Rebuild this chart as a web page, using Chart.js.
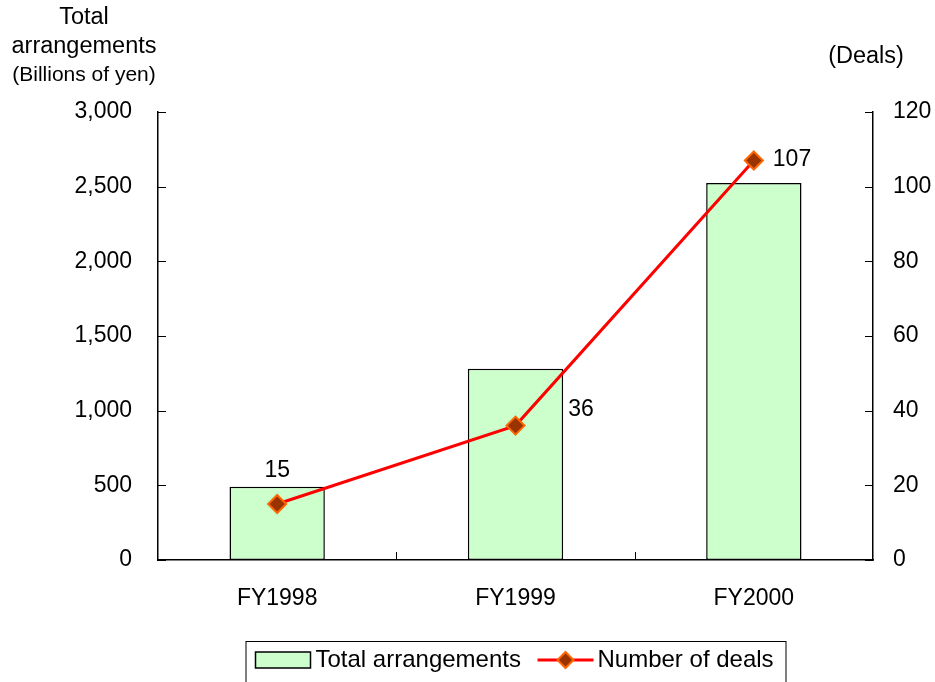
<!DOCTYPE html>
<html>
<head>
<meta charset="utf-8">
<script src="https://cdn.jsdelivr.net/npm/chart.js@4/dist/chart.umd.min.js"></script>
<style>
  html, body { margin: 0; padding: 0; background: #ffffff; }
  #wrap { width: 935px; height: 682px; position: relative; overflow: hidden; }
</style>
</head>
<body>
<div id="wrap"><canvas id="chart" width="935" height="682"></canvas></div>
<script>
// Fiscal years shown on the category axis
const categories = ['FY1998', 'FY1999', 'FY2000'];
// Total arrangements, billions of yen (left axis)
const totalArrangements = [490, 1280, 2525];
// Number of deals (right axis)
const numberOfDeals = [15, 36, 107];
// Tick values for both value axes
const leftTicks = [0, 500, 1000, 1500, 2000, 2500, 3000];
const rightTicks = [0, 20, 40, 60, 80, 100, 120];

const FONT = "'Liberation Sans', Arial, Helvetica, sans-serif";
const TEXT = '#000000';
const BAR_FILL = '#CCFFCC';
const LINE_RED = '#FF0000';
const MARK_FILL = '#993300';
const MARK_EDGE = '#FF6600';

// Short tick marks pointing into the plot area
const innerTicks = {
  id: 'innerTicks',
  afterDraw(chart) {
    const { ctx, chartArea: a, scales } = chart;
    const len = 8;
    ctx.save();
    ctx.strokeStyle = '#000';
    ctx.lineWidth = 1;
    leftTicks.forEach(v => {
      const y = Math.round(scales.y.getPixelForValue(v)) + 0.5;
      ctx.beginPath(); ctx.moveTo(a.left, y); ctx.lineTo(a.left + len, y); ctx.stroke();
    });
    rightTicks.forEach(v => {
      const y = Math.round(scales.y1.getPixelForValue(v)) + 0.5;
      ctx.beginPath(); ctx.moveTo(a.right, y); ctx.lineTo(a.right - len, y); ctx.stroke();
    });
    for (let i = 1; i < categories.length; i++) {
      const x = Math.round((scales.x.getPixelForValue(i - 1) + scales.x.getPixelForValue(i)) / 2) + 0.5;
      ctx.beginPath(); ctx.moveTo(x, a.bottom); ctx.lineTo(x, a.bottom - len); ctx.stroke();
    }
    ctx.restore();
  }
};

// Value labels for the deal counts
const dealLabels = {
  id: 'dealLabels',
  afterDatasetsDraw(chart) {
    const { ctx } = chart;
    const bars = chart.getDatasetMeta(0).data;
    const pts = chart.getDatasetMeta(1).data;
    ctx.save();
    ctx.fillStyle = TEXT;
    ctx.font = '23px ' + FONT;
    ctx.textBaseline = 'middle';
    numberOfDeals.forEach((v, i) => {
      const p = pts[i], b = bars[i];
      if (i === 0) {
        ctx.textAlign = 'center';
        ctx.fillText(String(v), b.x, b.y - 16);
      } else if (i === 1) {
        ctx.textAlign = 'left';
        ctx.fillText(String(v), b.x + b.width / 2 + 5, p.y - 16);
      } else {
        ctx.textAlign = 'left';
        ctx.fillText(String(v), p.x + 19, p.y - 1);
      }
    });
    ctx.restore();
  }
};

// Axis captions above the value axes
const axisCaptions = {
  id: 'axisCaptions',
  afterDraw(chart) {
    const { ctx, chartArea: a } = chart;
    ctx.save();
    ctx.fillStyle = TEXT;
    ctx.textAlign = 'center';
    ctx.textBaseline = 'middle';
    ctx.font = '23.5px ' + FONT;
    ctx.fillText('Total', 84, 18);
    ctx.fillText('arrangements', 84, 47);
    ctx.font = '21px ' + FONT;
    ctx.fillText('(Billions of yen)', 84, 75);
    ctx.font = '23.5px ' + FONT;
    ctx.fillText('(Deals)', a.right - 7, 57);
    ctx.restore();
  }
};

// Boxed legend under the plot
const boxedLegend = {
  id: 'boxedLegend',
  afterDraw(chart) {
    const { ctx, chartArea: a } = chart;
    const cx = (a.left + a.right) / 2;
    const left = cx - 270, top = 641, w = 540, h = 60;
    const cy = top + 19;
    ctx.save();
    ctx.strokeStyle = '#000';
    ctx.lineWidth = 1;
    ctx.strokeRect(left + 0.5, top + 0.5, w, h);
    // bar swatch
    ctx.fillStyle = BAR_FILL;
    ctx.fillRect(left + 10, cy - 8, 55, 16);
    ctx.lineWidth = 1.5;
    ctx.strokeRect(left + 10, cy - 8, 55, 16);
    ctx.fillStyle = TEXT;
    ctx.font = '24px ' + FONT;
    ctx.textAlign = 'left';
    ctx.textBaseline = 'middle';
    ctx.fillText('Total arrangements', left + 70, cy);
    // line swatch with marker
    const lx0 = left + 292, lx1 = left + 348, mx = (lx0 + lx1) / 2;
    ctx.strokeStyle = LINE_RED;
    ctx.lineWidth = 3;
    ctx.beginPath(); ctx.moveTo(lx0, cy); ctx.lineTo(lx1, cy); ctx.stroke();
    const r = 8;
    ctx.beginPath();
    ctx.moveTo(mx - r, cy); ctx.lineTo(mx, cy - r); ctx.lineTo(mx + r, cy); ctx.lineTo(mx, cy + r); ctx.closePath();
    ctx.fillStyle = MARK_FILL; ctx.fill();
    ctx.strokeStyle = MARK_EDGE; ctx.lineWidth = 2; ctx.stroke();
    ctx.fillStyle = TEXT;
    ctx.fillText('Number of deals', left + 352, cy);
    ctx.restore();
  }
};

const tickFont = { family: FONT, size: 23 };

new Chart(document.getElementById('chart'), {
  type: 'bar',
  data: {
    labels: categories,
    datasets: [
      {
        type: 'bar',
        label: 'Total arrangements',
        data: totalArrangements,
        yAxisID: 'y',
        backgroundColor: BAR_FILL,
        borderColor: '#000',
        borderWidth: 1.5,
        borderSkipped: false,
        barPercentage: 0.4,
        categoryPercentage: 1.0,
        order: 2
      },
      {
        type: 'line',
        label: 'Number of deals',
        data: numberOfDeals,
        yAxisID: 'y1',
        borderColor: LINE_RED,
        borderWidth: 3,
        tension: 0,
        pointStyle: 'rectRot',
        pointRadius: 9,
        pointHoverRadius: 9,
        pointBackgroundColor: MARK_FILL,
        pointBorderColor: MARK_EDGE,
        pointBorderWidth: 2,
        order: 1
      }
    ]
  },
  options: {
    responsive: false,
    animation: false,
    devicePixelRatio: 1,
    layout: { padding: { top: 112, left: 0, right: 0, bottom: 0 } },
    plugins: {
      legend: { display: false },
      tooltip: { enabled: false },
      title: { display: false }
    },
    scales: {
      x: {
        grid: { display: false },
        border: { display: true, color: '#000', width: 1.5 },
        ticks: { font: tickFont, color: TEXT, padding: 17, maxRotation: 0 },
        afterFit(s) { s.height = 122; }
      },
      y: {
        position: 'left',
        min: 0, max: 3000,
        grid: { display: false },
        border: { display: true, color: '#000', width: 1.5 },
        afterBuildTicks(s) { s.ticks = leftTicks.map(v => ({ value: v })); },
        ticks: {
          font: tickFont, color: TEXT, padding: 18,
          callback: v => v.toLocaleString('en-US')
        },
        afterFit(s) { s.width = 158; }
      },
      y1: {
        position: 'right',
        min: 0, max: 120,
        grid: { display: false },
        border: { display: true, color: '#000', width: 1.5 },
        afterBuildTicks(s) { s.ticks = rightTicks.map(v => ({ value: v })); },
        ticks: { font: tickFont, color: TEXT, padding: 12 },
        afterFit(s) { s.width = 62; }
      }
    }
  },
  plugins: [innerTicks, dealLabels, axisCaptions, boxedLegend]
});
</script>
</body>
</html>
